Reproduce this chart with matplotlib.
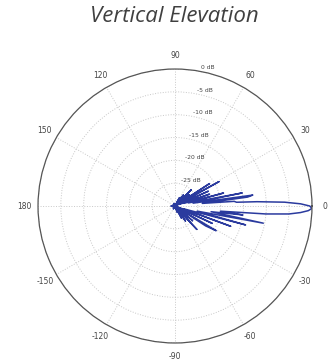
import numpy as np
import matplotlib.pyplot as plt
from matplotlib.transforms import offset_copy

# pattern vertices (angle in degrees, gain in dB)
angle_deg = [-180, -150, -135, -120, -100, -90, -75, -70, -66, -62, -58, -55, -52,
             -47, -44, -40, -37, -33, -31, -29, -25, -23, -20, -18, -15, -13,
             -11, -9, -7.5, -6.5, -5, -4, -3, -2, -1, 0, 1, 2, 3, 3.5, 4.5,
             5.5, 7, 8, 9, 11, 13, 15, 17, 19, 21, 24, 26, 29, 31, 33, 35,
             38, 41, 45, 48, 53, 56, 62, 66, 75, 90, 110, 120, 135, 150, 165, 180]
gain_db = [-29.2, -29.6, -30, -29.3, -30, -30, -29.5, -28.5, -30, -27, -30, -26, -30,
           -23, -30, -25, -30, -22, -19.5, -30, -21, -30, -17, -28, -14, -25,
           -10.3, -22, -15, -20, -10, -5, -2.5, -0.8, 0, -0.5, -2.5, -6, -12, -16.5, -17,
           -24, -14, -12.8, -26, -15, -27, -19, -28, -22, -29, -22, -30, -19, -30, -21, -30,
           -26, -30, -25, -30, -27, -30, -28, -30, -29.5, -30, -29.4, -30, -29.6, -29.5, -30, -29.2]

ring_db = [-25, -20, -15, -10, -5, 0]
ring_labels = ['-25 dB', '-20 dB', '-15 dB', '-10 dB', '-5 dB', '0 dB']
theta_grid = [0, 30, 60, 90, 120, 150, 180, 210, 240, 270, 300, 330]
theta_labels = ['0', '30', '60', '90', '120', '150', '180', '-150', '-120', '-90', '-60', '-30']

fig = plt.figure(figsize=(3.35, 3.64), dpi=100)
ax = fig.add_axes([0.1134, 0.0577, 0.818, 0.7527], projection='polar')

ax.plot(np.deg2rad(angle_deg), gain_db, color='#2a3a9e', lw=1.1)

ax.set_rlim(-30, 0)
ax.set_yticks(ring_db)
ax.set_yticklabels([])
ax.set_thetagrids(theta_grid, theta_labels, fontsize=5.5, color='#444444')
ax.tick_params(axis='x', pad=-1)
ax.grid(True, color='#c8c8c8', linestyle=':', lw=0.7)
ax.spines['polar'].set_color('#555555')
ax.spines['polar'].set_linewidth(0.9)

# radial labels sit just above each ring, right of the 90 degree spoke
for r, lab in zip(ring_db, ring_labels):
    tr = offset_copy(ax.transData, fig=fig, x=2, y=1, units='dots')
    ax.text(np.deg2rad(80), r, lab, transform=tr, fontsize=4.3,
            color='#444444', ha='left', va='bottom')

fig.text(0.52, 0.955, 'Vertical Elevation', ha='center', va='center',
         fontsize=16, style='italic', color='#404040', family='Open Sans')

plt.savefig('out.png', dpi=100)
